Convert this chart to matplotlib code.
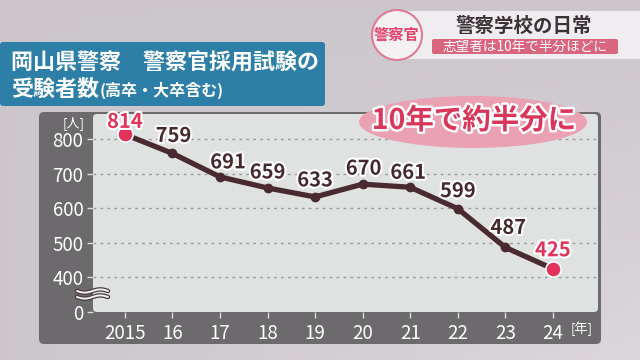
import numpy as np
import matplotlib
matplotlib.use("Agg")
import matplotlib.pyplot as plt
from matplotlib.patches import FancyBboxPatch, Ellipse, Circle
from matplotlib.transforms import IdentityTransform
import matplotlib.patheffects as pe

plt.rcParams['font.family'] = ['Noto Sans CJK JP', 'DejaVu Sans']

# ---------------- data ----------------
years = [2015, 2016, 2017, 2018, 2019, 2020, 2021, 2022, 2023, 2024]
year_labels = ['2015', '16', '17', '18', '19', '20', '21', '22', '23', '24']
applicants = [814, 759, 691, 659, 633, 670, 661, 599, 487, 425]
y_ticks = [400, 500, 600, 700, 800]
y_tick_labels = ['400', '500', '600', '700', '800']
zero_label = '0'

title_line1 = '岡山県警察　警察官採用試験の'
title_line2a = '受験者数'
title_line2b = '(高卒・大卒含む)'
headline = '10年で約半分に'
banner_title = '警察学校の日常'
banner_sub = '志望者は10年で半分ほどに'
badge = '警察官'
unit_y = '[人]'
unit_x = '[年]'

# ---------------- layout helpers ----------------
W, H = 640, 360
fig = plt.figure(figsize=(6.4, 3.6), dpi=100)
fig.patch.set_facecolor('#cdc7cd')
ID = IdentityTransform()


def box(x0, y0, x1, y1, color, rad=0.0, z=-2, ec='none', lw=0):
    p = FancyBboxPatch((x0, H - y1), x1 - x0, y1 - y0,
                       boxstyle=f"round,pad=0,rounding_size={rad}",
                       transform=ID, facecolor=color, edgecolor=ec,
                       linewidth=lw, zorder=z)
    fig.patches.append(p)
    return p


def ftext(x, y, s, **kw):
    return fig.text(x / W, 1 - y / H, s, **kw)


# soft background gradient
bg = fig.add_axes([0, 0, 1, 1], zorder=-10)
gx = np.linspace(0, 1, 64)
gy = np.linspace(0, 1, 36)
GX, GY = np.meshgrid(gx, gy)
base = np.array([0.80, 0.78, 0.80])
grad = base[None, None, :] + (0.06 * GX * GY)[:, :, None]
bg.imshow(np.clip(grad, 0, 1), aspect='auto', extent=[0, 1, 0, 1], origin='upper')
bg.axis('off')

# dark panel + light plotting area
box(39, 112, 601, 344, '#6c6a6c', rad=5, z=-2)
box(93, 114, 598, 312, '#e0e2e2', rad=4, z=-1)

# title box
box(0, 42, 325, 106, '#2d7fa8', rad=3, z=2)
ftext(11, 62, title_line1, color='white', fontsize=15.8, fontweight='bold',
      va='center', ha='left', zorder=3)
t2 = ftext(11, 89, title_line2a, color='white', fontsize=15.8, fontweight='bold',
           va='center', ha='left', zorder=3)
renderer = fig.canvas.get_renderer()
ext = t2.get_window_extent(renderer)
ftext(ext.x1 + 1, 90, title_line2b, color='white', fontsize=11.5, fontweight='bold',
      va='center', ha='left', zorder=3)

# top-right banner
box(405, 11, 640, 59, '#efedef', rad=0, z=2)
box(432, 39, 618, 54, '#d9657f', rad=2, z=3)
ftext(524, 26, banner_title, color='#3a3236', fontsize=14, fontweight='bold',
      ha='center', va='center', zorder=4)
ftext(525, 47, banner_sub, color='white', fontsize=9.8, ha='center', va='center', zorder=4)
circ = Circle((397, H - 35), 25, transform=ID, facecolor='#f4f1f3',
              edgecolor='#e07b96', linewidth=1.5, zorder=5)
fig.patches.append(circ)
ftext(397, 35, badge, color='#e0416a', fontsize=11, fontweight='bold',
      ha='center', va='center', zorder=6)

# headline ellipse
ell = Ellipse((473, H - 122), 228, 52, transform=ID, facecolor='#eaa2b3',
              edgecolor='none', zorder=5)
fig.patches.append(ell)
ftext(474, 121, headline, color='#d8375b', fontsize=20.5, fontweight='bold',
      ha='center', va='center', zorder=6,
      path_effects=[pe.withStroke(linewidth=3.5, foreground='white')])

# ---------------- main chart ----------------
ax = fig.add_axes([93 / W, 1 - 312 / H, (598 - 93) / W, (312 - 114) / H], zorder=1)
ax.set_facecolor('none')
axis_floor = 300  # value drawn at the broken-axis bottom
ax.set_ylim(axis_floor, 873)
ax.set_xlim(2014.33, 2024.95)

for yv in y_ticks:
    ax.axhline(yv, color='#9a9a9a', lw=1, ls=(0, (2, 3)), zorder=1)

ax.plot(years, applicants, color='#4a2a31', lw=3.8, solid_joinstyle='round',
        solid_capstyle='round', zorder=3)
ax.plot(years[1:-1], applicants[1:-1], 'o', color='#4a2a31', ms=6, zorder=4)
ax.plot([years[0], years[-1]], [applicants[0], applicants[-1]], 'o',
        color='#e2335a', ms=11, mec='white', mew=1.2, zorder=5, clip_on=False)

label_offsets = [(0, 13), (1, 18), (8, 15), (0, 16), (0, 17),
                 (1, 16), (-2, 15), (0, 18), (3, 20), (0, 19)]
for i, (xv, yv) in enumerate(zip(years, applicants)):
    col = '#e0345a' if i in (0, len(years) - 1) else '#45292f'
    dx, dy = label_offsets[i]
    ax.annotate(str(yv), (xv, yv), xytext=(dx, dy), textcoords='offset pixels',
                ha='center', va='center', fontsize=14.5, fontweight='bold',
                color=col, zorder=6, annotation_clip=False,
                path_effects=[pe.withStroke(linewidth=3, foreground='white')])

ax.set_yticks([axis_floor] + y_ticks)
ax.set_yticklabels([zero_label] + y_tick_labels)
ax.set_xticks(years)
ax.set_xticklabels(year_labels)
ax.tick_params(axis='y', colors='#dcdcdc', labelcolor='white', length=4, width=1,
               pad=3, labelsize=13.5)
ax.tick_params(axis='x', colors='#dcdcdc', labelcolor='white', length=4, width=1,
               pad=4, labelsize=13.5)
for s in ax.spines.values():
    s.set_visible(False)

# units
ftext(74, 123, unit_y, color='white', fontsize=9.5, ha='center', va='center')
ftext(582, 329, unit_x, color='white', fontsize=9.5, ha='center', va='center')

# axis break mark
wx = np.linspace(77, 108, 60)
for yb in (291, 297):
    wy = yb + 1.6 * np.sin((wx - 77) / 31 * 2 * np.pi)
    fig.lines.append(plt.Line2D(wx, H - wy, transform=ID, color='#4a3a40', lw=3.2,
                                zorder=7, solid_capstyle='round'))
    fig.lines.append(plt.Line2D(wx, H - wy, transform=ID, color='#f2f2f2', lw=1.4,
                                zorder=8, solid_capstyle='round'))

fig.savefig('out.png', dpi=100)
